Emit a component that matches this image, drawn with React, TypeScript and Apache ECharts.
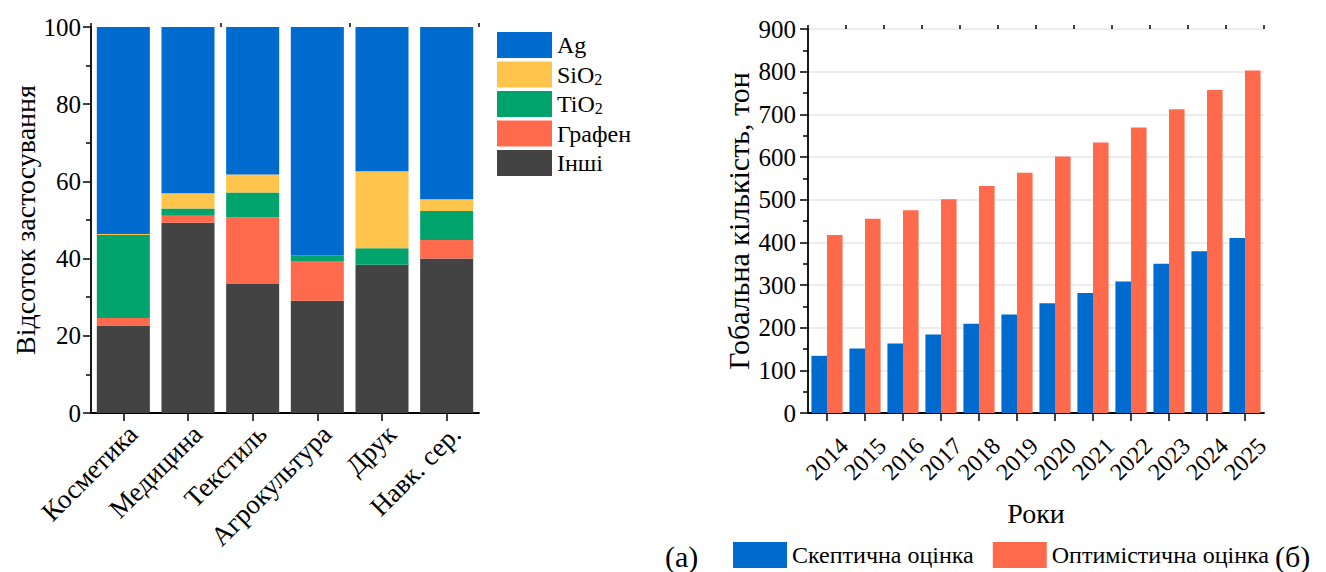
import React, { useEffect, useRef } from "react";
import * as echarts from "echarts";

// Panel (а): share of nanomaterials by application field, %
const fields = ["Косметика", "Медицина", "Текстиль", "Агрокультура", "Друк", "Навк. сер."];
const otherShare = [22.7, 49.3, 33.4, 29.1, 38.4, 40.0];
const grapheneShare = [1.9, 1.8, 17.3, 10.3, 0, 4.8];
const tio2Share = [21.5, 1.9, 6.4, 1.4, 4.3, 7.5];
const sio2Share = [0.3, 3.9, 4.7, 0, 19.9, 3.1];
const agShare = [53.6, 43.1, 38.2, 59.2, 37.4, 44.6];

// Panel (б): global amount, tonnes
const years = ["2014", "2015", "2016", "2017", "2018", "2019", "2020", "2021", "2022", "2023", "2024", "2025"];
const skeptical = [134, 151, 163, 184, 209, 231, 257, 281, 308, 350, 379, 410];
const optimistic = [417, 455, 475, 501, 532, 563, 601, 634, 669, 712, 757, 803];

const leftYTicks = { min: 0, max: 100, interval: 20 };
const rightYTicks = { min: 0, max: 900, interval: 100 };

const FONT = "Liberation Serif, Times New Roman, serif";
const C_AG = "#006BCE";
const C_SIO2 = "#FFC44B";
const C_TIO2 = "#00A36B";
const C_GRAPHENE = "#FF6A4C";
const C_OTHER = "#434343";

export default function App() {
  const ref = useRef<HTMLDivElement>(null);

  useEffect(() => {
    if (!ref.current) return;
    const chart = echarts.init(ref.current, undefined, { renderer: "svg" });

    const axisLine = { show: true, lineStyle: { color: "#000", width: 1.8 } };
    const label = { color: "#000", fontFamily: FONT, fontSize: 25 };
    const tickStyle = { color: "#000", width: 1.5 };

    chart.setOption({
      animation: false,
      backgroundColor: "#fff",
      textStyle: { fontFamily: FONT, color: "#000" },
      grid: [
        { left: 91, top: 27, width: 388, height: 386 },
        { left: 808, top: 29, width: 456, height: 384 },
      ],
      legend: [
        {
          data: ["Ag", "SiO2", "TiO2", "Графен", "Інші"],
          orient: "vertical",
          left: 497,
          top: 32,
          padding: 0,
          itemWidth: 55,
          itemHeight: 26,
          itemGap: 3.5,
          icon: "rect",
          formatter: (name: string) =>
            name === "SiO2" ? "SiO{sub|2}" : name === "TiO2" ? "TiO{sub|2}" : name,
          textStyle: {
            fontFamily: FONT,
            fontSize: 24,
            color: "#000",
            rich: { sub: { fontFamily: FONT, fontSize: 16, color: "#000", padding: [9, 0, 0, 0] } },
          },
        },
        {
          data: ["Скептична оцінка", "Оптимістична оцінка"],
          orient: "horizontal",
          left: 733,
          top: 542,
          padding: 0,
          itemWidth: 54,
          itemHeight: 26,
          itemGap: 19,
          icon: "rect",
          textStyle: { fontFamily: FONT, fontSize: 24, color: "#000" },
        },
      ],
      xAxis: [
        {
          type: "category",
          gridIndex: 0,
          data: fields,
          axisLine,
          axisTick: { show: true, alignWithLabel: true, length: 8, lineStyle: tickStyle },
          axisLabel: { ...label, fontSize: 27, rotate: 45, margin: 7, verticalAlign: "top", interval: 0 },
        },
        {
          type: "category",
          gridIndex: 0,
          data: fields,
          axisLine: { show: false },
          axisTick: { show: true, length: 4, lineStyle: tickStyle },
          axisLabel: { show: false },
        },
        {
          type: "category",
          gridIndex: 1,
          data: years,
          name: "Роки",
          nameLocation: "middle",
          nameGap: 86,
          nameTextStyle: { fontFamily: FONT, fontSize: 28, color: "#000" },
          axisLine,
          axisTick: { show: true, alignWithLabel: true, length: 8, lineStyle: tickStyle },
          axisLabel: { ...label, fontSize: 24, rotate: 45, margin: 12, verticalAlign: "top", padding: [12, 0, 0, 0], interval: 0 },
        },
        {
          type: "category",
          gridIndex: 1,
          data: years,
          axisLine: { show: false },
          axisTick: { show: true, length: 4, lineStyle: tickStyle },
          axisLabel: { show: false },
        },
      ],
      yAxis: [
        {
          type: "value",
          gridIndex: 0,
          ...leftYTicks,
          name: "Відсоток застосування",
          nameLocation: "middle",
          nameGap: 52,
          nameTextStyle: { fontFamily: FONT, fontSize: 28, color: "#000" },
          axisLine,
          axisTick: { show: true, length: 8, lineStyle: tickStyle },
          minorTick: { show: true, splitNumber: 2, length: 5, lineStyle: tickStyle },
          splitLine: { show: false },
          axisLabel: { ...label, margin: 10 },
        },
        {
          type: "value",
          gridIndex: 1,
          ...rightYTicks,
          name: "Гобальна кількість, тон",
          nameLocation: "middle",
          nameGap: 55,
          nameTextStyle: { fontFamily: FONT, fontSize: 30, color: "#000" },
          axisLine,
          axisTick: { show: true, length: 8, lineStyle: tickStyle },
          minorTick: { show: true, splitNumber: 2, length: 5, lineStyle: tickStyle },
          splitLine: { show: true, lineStyle: { color: "#e6e6e6", width: 1.5 } },
          axisLabel: { ...label, margin: 12 },
        },
      ],
      series: [
        { name: "Інші", type: "bar", stack: "share", data: otherShare, itemStyle: { color: C_OTHER }, barCategoryGap: "18%", xAxisIndex: 0, yAxisIndex: 0 },
        { name: "Графен", type: "bar", stack: "share", data: grapheneShare, itemStyle: { color: C_GRAPHENE }, xAxisIndex: 0, yAxisIndex: 0 },
        { name: "TiO2", type: "bar", stack: "share", data: tio2Share, itemStyle: { color: C_TIO2 }, xAxisIndex: 0, yAxisIndex: 0 },
        { name: "SiO2", type: "bar", stack: "share", data: sio2Share, itemStyle: { color: C_SIO2 }, xAxisIndex: 0, yAxisIndex: 0 },
        { name: "Ag", type: "bar", stack: "share", data: agShare, itemStyle: { color: C_AG }, xAxisIndex: 0, yAxisIndex: 0 },
        { name: "Скептична оцінка", type: "bar", data: skeptical, itemStyle: { color: C_AG }, barGap: "0%", barCategoryGap: "18%", xAxisIndex: 2, yAxisIndex: 1 },
        { name: "Оптимістична оцінка", type: "bar", data: optimistic, itemStyle: { color: C_GRAPHENE }, barGap: "0%", barCategoryGap: "18%", xAxisIndex: 2, yAxisIndex: 1 },
      ],
      graphic: [
        { type: "text", left: 665, top: 541, style: { text: "(а)", fontFamily: FONT, fontSize: 30, lineHeight: 30, fill: "#000" } },
        { type: "text", left: 1275, top: 541, style: { text: "(б)", fontFamily: FONT, fontSize: 30, lineHeight: 30, fill: "#000" } },
      ],
    });

    return () => chart.dispose();
  }, []);

  return (
    <div
      ref={ref}
      style={{ position: "fixed", left: 0, top: 0, width: 1326, height: 572, background: "#fff" }}
    />
  );
}
